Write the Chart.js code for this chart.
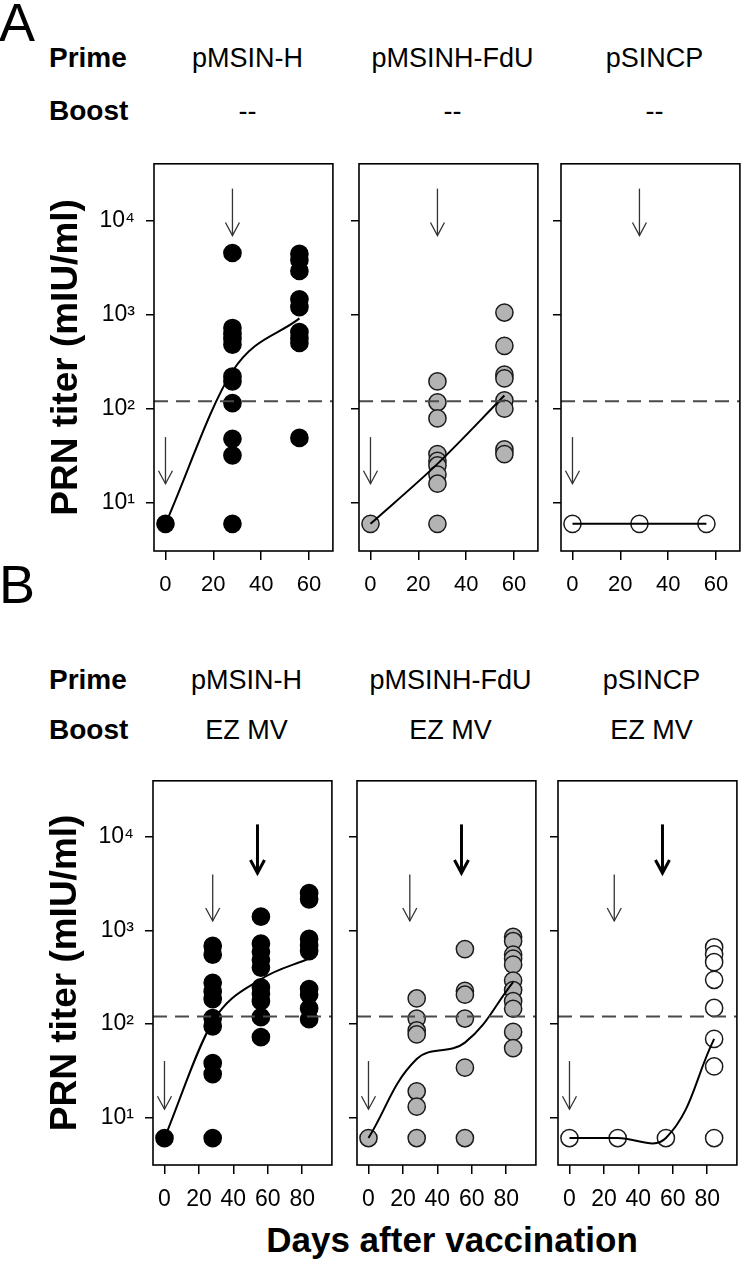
<!DOCTYPE html>
<html><head><meta charset="utf-8">
<script src="https://cdn.jsdelivr.net/npm/chart.js@4.4.1/dist/chart.umd.min.js"></script>
<style>
html,body{margin:0;padding:0;background:#fff;}
body{width:750px;height:1266px;position:relative;overflow:hidden;font-family:'Liberation Sans',Arial,sans-serif;color:#000;}
canvas{position:absolute;}
.t{position:absolute;white-space:nowrap;line-height:1;}
</style></head><body>
<script>
// ---------------- data ----------------
const PRIME_LABELS = ['pMSIN-H', 'pMSINH-FdU', 'pSINCP'];
const BOOST_A = ['--', '--', '--'];
const BOOST_B = ['EZ MV', 'EZ MV', 'EZ MV'];
const Y_TICKS = [10, 100, 1000, 10000];
const Y_TICK_LABELS = ['10\u00b9', '10\u00b2', '10\u00b3', '10\u2074'];
const X_TICKS_A = [0, 20, 40, 60];
const X_TICKS_B = [0, 20, 40, 60, 80];
const DAYS_A = [0, 28, 56];
const DAYS_B = [0, 28, 56, 84];
const THRESHOLD = 120;

// Panel A1 (pMSIN-H, no boost)
const A1_DAY0 = [6];
const A1_DAY28 = [4500, 720, 620, 550, 480, 220, 195, 115, 48, 32, 6];
const A1_DAY56 = [4400, 3800, 2900, 1450, 1200, 650, 560, 500, 49];
const A1_CURVE = [6, 250, 910];
// Panel A2 (pMSINH-FdU, no boost)
const A2_DAY0 = [6];
const A2_DAY28 = [195, 117, 79, 33, 28, 25, 20, 16, 6];
const A2_DAY56 = [1050, 465, 230, 210, 123, 100, 37, 33];
const A2_CURVE = [6, 26, 138];
// Panel A3 (pSINCP, no boost)
const A3_DAY0 = [6];
const A3_DAY28 = [6];
const A3_DAY56 = [6];
const A3_CURVE = [6, 6, 6];
// Panel B1 (pMSIN-H, EZ MV)
const B1_DAY0 = [6];
const B1_DAY28 = [682, 550, 275, 222, 184, 115, 94, 38, 29, 6];
const B1_DAY56 = [1400, 720, 590, 485, 400, 245, 210, 175, 118, 72];
const B1_DAY84 = [2500, 2150, 810, 690, 600, 236, 205, 146, 112];
const B1_CURVE = [6, 105, 300, 500];
// Panel B2 (pMSINH-FdU, EZ MV)
const B2_DAY0 = [6];
const B2_DAY28 = [187, 114, 85, 77, 19, 13, 6];
const B2_DAY56 = [630, 225, 205, 114, 34, 6];
const B2_DAY84 = [850, 770, 550, 500, 430, 290, 230, 175, 145, 82, 55];
const B2_CURVE = [6, 42, 63, 280];
// Panel B3 (pSINCP, EZ MV)
const B3_DAY0 = [6];
const B3_DAY28 = [6];
const B3_DAY56 = [6];
const B3_DAY84 = [660, 555, 457, 296, 148, 69, 35, 6];
const B3_CURVE = [6, 6, 6, 69];

// vaccination arrows (day, value at tail, value at tip)
const ARROW_A_DAY = [0, 28];
const ARROW_A_FROM = [50, 21700];
const ARROW_A_TO = [16, 6900];
const ARROW_B_DAY = [[0, 28, 54], [0, 24, 54], [0, 26, 54]];
const ARROW_B_FROM = [40, 3960, 13600];
const ARROW_B_TO = [12.2, 1260, 4100];
const ARROW_B_BOLD = [false, false, true];

// ---------------- layout / style ----------------
const FONT = "'Liberation Sans', Arial, sans-serif";
const ROWS = {
  A: {top: 145, bottom: 551, lefts: [154, 359, 561], width: 187, ppd: 2.5, x0: 12,
      xTicks: X_TICKS_A, days: DAYS_A, tickFont: 22},
  B: {top: 762, bottom: 1165, lefts: [153, 357, 558], width: 187, ppd: 1.8, x0: 12,
      xTicks: X_TICKS_B, days: DAYS_B, tickFont: 23}
};
const STYLES = [
  {fill: '#000000', stroke: '#000000'},
  {fill: '#b3b3b3', stroke: '#1a1a1a'},
  {fill: '#ffffff', stroke: '#1a1a1a'}
];

function addText(txt, opts) {
  const d = document.createElement('div');
  d.className = 't';
  d.textContent = txt;
  const F = opts.size;
  d.style.fontSize = F + 'px';
  d.style.fontWeight = opts.bold ? 'bold' : 'normal';
  d.style.top = (opts.baseline - 0.8465 * F) + 'px';
  if (opts.center !== undefined) {
    d.style.left = opts.center + 'px';
    d.style.transform = 'translateX(-50%)';
  } else {
    d.style.left = opts.left + 'px';
  }
  document.body.appendChild(d);
}

// headers
addText('A', {size: 54, baseline: 41, left: -1});
addText('B', {size: 54, baseline: 603, left: -1});
addText('Prime', {size: 28, bold: true, baseline: 68, left: 49});
addText('Boost', {size: 28, bold: true, baseline: 121, left: 49});
addText('Prime', {size: 28, bold: true, baseline: 690, left: 49});
addText('Boost', {size: 28, bold: true, baseline: 740, left: 49});
for (let i = 0; i < 3; i++) {
  const cA = ROWS.A.lefts[i] + ROWS.A.width / 2;
  const cB = ROWS.B.lefts[i] + ROWS.B.width / 2;
  addText(PRIME_LABELS[i], {size: 27, baseline: 68, center: cA});
  addText(BOOST_A[i], {size: 27, baseline: 121, center: cA});
  addText(PRIME_LABELS[i], {size: 27, baseline: 690, center: cB});
  addText(BOOST_B[i], {size: 27, baseline: 740, center: cB});
}
addText('Days after vaccination', {size: 35, bold: true, baseline: 1252, center: 452});

const decorPlugin = {
  id: 'decor',
  afterDatasetsDraw(chart) {
    const cfg = chart.options.plugins.decor;
    const {ctx, chartArea: a} = chart;
    const xs = chart.scales.x, ys = chart.scales.y;
    ctx.save();
    // threshold dashed line
    const ty = ys.getPixelForValue(cfg.threshold);
    ctx.strokeStyle = '#4a4a4a';
    ctx.lineWidth = 2;
    ctx.setLineDash([14, 8]);
    ctx.beginPath(); ctx.moveTo(a.left, ty); ctx.lineTo(a.right, ty); ctx.stroke();
    ctx.setLineDash([]);
    // arrows
    cfg.arrows.forEach(ar => {
      const px = xs.getPixelForValue(ar.day);
      const y1 = ys.getPixelForValue(ar.from);
      const y2 = ys.getPixelForValue(ar.to);
      ctx.strokeStyle = ar.bold ? '#000' : '#333';
      ctx.lineWidth = ar.bold ? 3 : 1.3;
      ctx.lineCap = 'butt';
      ctx.beginPath(); ctx.moveTo(px, y1); ctx.lineTo(px, y2 - (ar.bold ? 1 : 0)); ctx.stroke();
      ctx.beginPath();
      ctx.moveTo(px - 7, y2 - 13); ctx.lineTo(px, y2); ctx.lineTo(px + 7, y2 - 13);
      ctx.stroke();
    });
    // box
    ctx.strokeStyle = '#000';
    ctx.lineWidth = 1.6;
    ctx.strokeRect(a.left, a.top, a.right - a.left, a.bottom - a.top);
    ctx.restore();
  }
};

function points(days, lists) {
  const out = [];
  days.forEach((d, i) => lists[i].forEach(v => out.push({x: d, y: v})));
  return out;
}

function buildPanel(rowKey, idx, lists, curve, arrows, interp) {
  const row = ROWS[rowKey];
  const boxL = row.lefts[idx], boxW = row.width;
  const boxH = row.bottom - row.top;
  const padL = idx === 0 ? 112 : 14, padR = 2, padT = 6, padB = 62;
  const W = boxW + padL + padR, H = boxH + padT + padB;
  const cv = document.createElement('canvas');
  cv.width = W; cv.height = H;
  cv.style.left = (boxL - padL) + 'px';
  cv.style.top = (row.top - padT) + 'px';
  cv.style.width = W + 'px'; cv.style.height = H + 'px';
  document.body.appendChild(cv);
  const st = STYLES[idx];
  new Chart(cv, {
    type: 'scatter',
    data: {
      datasets: [
        {
          data: row.days.map((d, i) => ({x: d, y: curve[i]})),
          showLine: true, tension: 0.4, cubicInterpolationMode: interp,
          borderColor: '#000', borderWidth: 2,
          pointRadius: 0, fill: false, order: 0
        },
        {
          data: points(row.days, lists),
          pointRadius: 8.6, pointBorderWidth: 1.5,
          backgroundColor: st.fill, borderColor: st.stroke,
          pointBackgroundColor: st.fill, pointBorderColor: st.stroke,
          showLine: false, order: 1
        }
      ]
    },
    options: {
      responsive: false, animation: false, devicePixelRatio: 1,
      layout: {padding: {left: 0, right: padR, top: padT, bottom: 0}},
      plugins: {
        legend: {display: false}, tooltip: {enabled: false},
        decor: {threshold: THRESHOLD, arrows: arrows}
      },
      scales: {
        x: {
          type: 'linear',
          min: -row.x0 / row.ppd, max: (boxW - row.x0) / row.ppd,
          afterBuildTicks: s => { s.ticks = row.xTicks.map(v => ({value: v})); },
          afterFit: s => { s.height = padB; },
          ticks: {autoSkip: false, maxRotation: 0, padding: 12, color: '#000',
                  font: {family: FONT, size: row.tickFont}, callback: v => String(v)},
          grid: {drawOnChartArea: false, drawTicks: true, tickLength: 9, color: '#000', lineWidth: 1.5},
          border: {display: false}
        },
        y: {
          type: 'logarithmic',
          min: Math.pow(10, 0.49), max: Math.pow(10, 4.6),
          afterBuildTicks: s => { s.ticks = Y_TICKS.map(v => ({value: v})); },
          afterFit: s => { s.width = padL; },
          ticks: {padding: 11, color: '#000', font: {family: FONT, size: 23},
                  callback: (v) => idx === 0 ? Y_TICK_LABELS[Y_TICKS.indexOf(v)] : ''},
          grid: {drawOnChartArea: false, drawTicks: true, tickLength: 8, color: '#000', lineWidth: 1.5},
          border: {display: false},
          title: {display: idx === 0, text: 'PRN titer (mIU/ml)', color: '#000',
                  font: {family: FONT, size: 37, weight: 'bold'}, padding: {top: 3, bottom: 0}}
        }
      }
    },
    plugins: [decorPlugin]
  });
}

const arrowsA = ARROW_A_DAY.map((d, i) => ({day: d, from: ARROW_A_FROM[i], to: ARROW_A_TO[i], bold: false}));
const arrowsB = k => ARROW_B_DAY[k].map((d, i) => ({day: d, from: ARROW_B_FROM[i], to: ARROW_B_TO[i], bold: ARROW_B_BOLD[i]}));

buildPanel('A', 0, [A1_DAY0, A1_DAY28, A1_DAY56], A1_CURVE, arrowsA, 'monotone');
buildPanel('A', 1, [A2_DAY0, A2_DAY28, A2_DAY56], A2_CURVE, arrowsA, 'monotone');
buildPanel('A', 2, [A3_DAY0, A3_DAY28, A3_DAY56], A3_CURVE, arrowsA, 'default');
buildPanel('B', 0, [B1_DAY0, B1_DAY28, B1_DAY56, B1_DAY84], B1_CURVE, arrowsB(0), 'monotone');
buildPanel('B', 1, [B2_DAY0, B2_DAY28, B2_DAY56, B2_DAY84], B2_CURVE, arrowsB(1), 'default');
buildPanel('B', 2, [B3_DAY0, B3_DAY28, B3_DAY56, B3_DAY84], B3_CURVE, arrowsB(2), 'default');
</script>
</body></html>
